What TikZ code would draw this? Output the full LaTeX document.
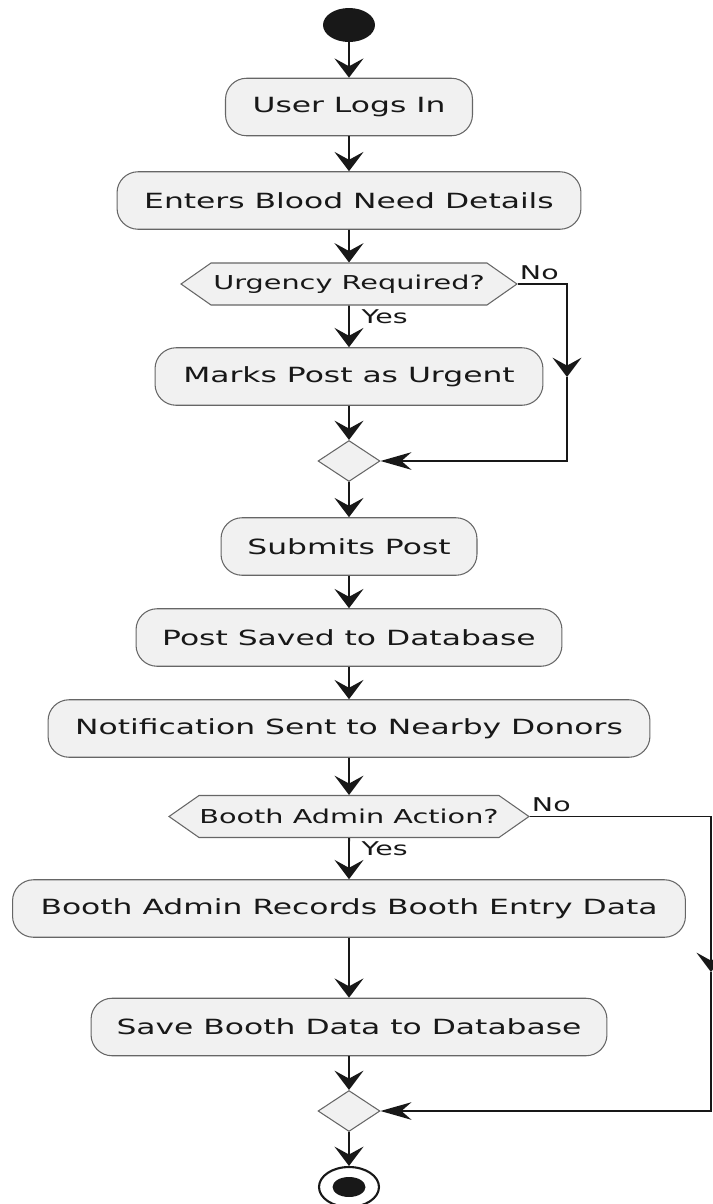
\documentclass[tikz,border=0pt]{standalone}
\usepackage{fontspec}
\setmainfont{DejaVu Sans}
\usepackage{graphicx}
\usepackage{xcolor}
\usetikzlibrary{shapes.geometric,shapes.symbols,arrows.meta,positioning}

\definecolor{boxfill}{HTML}{F1F1F1}
\definecolor{boxline}{HTML}{666666}
\definecolor{ink}{HTML}{181818}

% text in the boxes is drawn wide
\newcommand{\wide}[1]{\scalebox{1.5}[1]{#1}}

\tikzset{
    activity/.style={rectangle, rounded corners=0.42cm, draw=boxline, line width=0.6pt,
        fill=boxfill, text=ink, minimum height=1.15cm, inner xsep=3pt,
        font=\fontsize{11.9}{14}\selectfont},
    decision/.style={signal, signal to=west and east, signal pointer angle=70,
        draw=boxline, line width=0.6pt, fill=boxfill, text=ink, inner sep=0pt,
        minimum height=0.84cm, font=\fontsize{10.9}{13}\selectfont},
    merge/.style={diamond, draw=boxline, line width=0.6pt, fill=boxfill, inner sep=0pt,
        minimum width=1.24cm, minimum height=0.82cm},
    guard/.style={inner sep=0pt, text=ink, font=\fontsize{10.8}{12}\selectfont},
    flow/.style={draw=ink, line width=1.1pt, -{Stealth[length=11pt,width=16.5pt,inset=4.5pt]}},
    flowh/.style={draw=ink, line width=1.1pt, -{Stealth[length=17.6pt,width=10pt,inset=5.7pt]}},
}

\begin{document}
\begin{tikzpicture}[x=0.02cm, y=-0.02cm]
    \useasboundingbox (0,0) rectangle (713,1204);

    % start and the first steps
    \node[ellipse, fill=ink, minimum width=1.04cm, minimum height=0.68cm] (start) at (349,25) {};
    \node[activity, minimum width=4.94cm] (login) at (349,107) {\wide{User Logs In}};
    \node[activity, minimum width=9.28cm] (details) at (349,200.5) {\wide{Enters Blood Need Details}};

    % urgency branch
    \node[decision, minimum width=6.72cm] (urgency) at (349,284) {\wide{Urgency Required?}};
    \node[activity, minimum width=7.76cm] (urgent) at (349,376.5) {\wide{Marks Post as Urgent}};
    \node[merge] (join1) at (349,461) {};
    \node[guard, below right=2pt and 7pt of urgency.south] (yes1) {\wide{Yes}};
    \node[guard, above right=2.3pt and 1pt of urgency.east] (no1) {\wide{No}};
    \coordinate (skip1) at (567,377);

    % posting
    \node[activity, minimum width=5.12cm] (submit) at (349,546.5) {\wide{Submits Post}};
    \node[activity, minimum width=8.52cm] (saved) at (349,637.5) {\wide{Post Saved to Database}};
    \node[activity, minimum width=12.04cm] (notify) at (349,728.5) {\wide{Notification Sent to Nearby Donors}};

    % booth branch
    \node[decision, minimum width=7.2cm] (admin) at (349,816.5) {\wide{Booth Admin Action?}};
    \node[activity, minimum width=13.46cm] (records) at (349,908.5) {\wide{Booth Admin Records Booth Entry Data}};
    \node[activity, minimum width=10.32cm] (boothdb) at (349,1027) {\wide{Save Booth Data to Database}};
    \node[merge] (join2) at (349,1111) {};
    \node[guard, below right=2pt and 7pt of admin.south] (yes2) {\wide{Yes}};
    \node[guard, above right=2.3pt and 1pt of admin.east] (no2) {\wide{No}};
    \coordinate (skip2) at (711,972);

    % stop
    \node[ellipse, draw=ink, line width=1.2pt, fill=white, minimum width=1.2cm, minimum height=0.8cm] (stop) at (349,1187) {};
    \node[ellipse, fill=ink, minimum width=0.66cm, minimum height=0.4cm] (stopdot) at (349,1187) {};

    % connectors
    \draw[flow] (start) -- (login);
    \draw[flow] (login) -- (details);
    \draw[flow] (details) -- (urgency);
    \draw[flow] (urgency) -- (urgent);
    \draw[flow] (urgent) -- (join1);
    \draw[flow] (urgency.east) -| (skip1);
    \draw[flowh] (skip1) |- (join1.east);
    \draw[flow] (join1) -- (submit);
    \draw[flow] (submit) -- (saved);
    \draw[flow] (saved) -- (notify);
    \draw[flow] (notify) -- (admin);
    \draw[flow] (admin) -- (records);
    \draw[flow] (records) -- (boothdb);
    \draw[flow] (boothdb) -- (join2);
    \draw[flow] (admin.east) -| (skip2);
    \draw[flowh] (skip2) |- (join2.east);
    \draw[flow] (join2) -- (stop);
\end{tikzpicture}
\end{document}
